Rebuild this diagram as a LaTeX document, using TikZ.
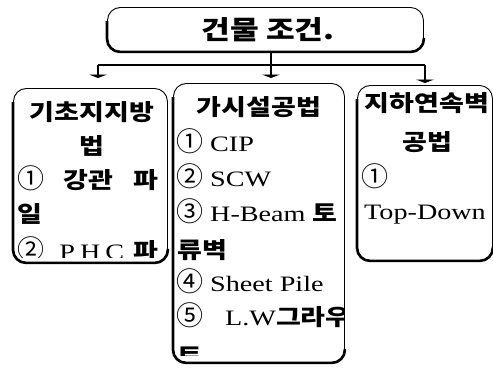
\documentclass[tikz,border=0pt]{standalone}
\usepackage{fontspec}
\setmainfont{Liberation Serif}[FakeStretch=1.28]
\newfontfamily\kr{Noto Sans CJK KR}[FakeStretch=1.2]
\newfontfamily\krc{Noto Sans CJK KR}
\usetikzlibrary{arrows.meta}
\newcommand{\K}[2][22.5]{{\kr\bfseries\fontsize{#1}{#1}\selectfont #2}}
\newcommand{\C}[1]{{\krc\fontsize{27}{27}\selectfont #1}}
\newcommand{\boxshadow}[1]{\draw[line width=2.6pt, rounded corners=13pt]
  ([yshift=-14pt]#1.north west) -- (#1.south west) -- (#1.south east) -- ([yshift=14pt]#1.south east);}
\tikzset{
  boxshape/.style={draw, line width=0.9pt, rounded corners=13pt, inner sep=0pt, anchor=north west},
  lbl/.style={inner sep=0pt, anchor=base},
  lblw/.style={inner sep=0pt, anchor=base west},
  conn/.style={line width=1.2pt},
  arr/.style={conn, -{Triangle[width=18pt,length=3.5pt]}},
}
\begin{document}
\begin{tikzpicture}[x=1pt,y=-1pt]
\useasboundingbox (0,0) rectangle (493,368);
\fontsize{22}{22}\selectfont
% boxes
\node[boxshape, minimum width=316pt, minimum height=44pt] (top) at (107,7) {};
\node[boxshape, minimum width=154pt, minimum height=174pt] (lb) at (13,88) {};
\node[boxshape, minimum width=171pt, minimum height=279pt] (mb) at (173,83) {};
\node[boxshape, minimum width=135pt, minimum height=175pt] (rb) at (357,85) {};
% title
\node[lbl] (title) at (268,39) {\K[26]{건물 조건.}};
% left box text
\begin{scope}
\clip (13,88) rectangle (167,257);
\node[lbl] (l1) at (92,120) {\K{기초지지방}};
\node[lbl] (l2) at (92,154) {\K{법}};
\node[lblw] (l3) at (17,188) {\makebox[141pt][s]{\C{①} \K{강관} \K{파}}};
\node[lblw] (l4) at (17,222) {\K{일}};
\node[lblw] (l5) at (17,259) {\makebox[141pt][s]{\C{②} \hspace{6pt}P\hspace{5pt}H\hspace{5pt}C \K{파}}};
\end{scope}
% middle box text
\begin{scope}
\clip (173,83) rectangle (344,355);
\node[lbl] (m1) at (259,115) {\K{가시설공법}};
\node[lblw] (m2) at (176,151) {\C{①}\hspace{7pt}CIP};
\node[lblw] (m3) at (176,186) {\C{②}\hspace{7pt}SCW};
\node[lblw] (m4) at (176,221) {\C{③}\hspace{7pt}H-Beam \K{토}};
\node[lblw] (m5) at (177,258) {\K{류벽}};
\node[lblw] (m6) at (176,291) {\C{④}\hspace{7pt}Sheet Pile};
\node[lblw] (m7) at (176,325) {\C{⑤}\hspace{22pt}L.W\K{그라우}};
\node[lblw] (m8) at (177,364) {\K{트}};
\end{scope}
% right box text
\node[lbl] (r1) at (427,111) {\K{지하연속벽}};
\node[lbl] (r2) at (427,150) {\K{공법}};
\node[lblw] (r3) at (361,186) {\C{①}};
\node[lblw] (r4) at (364,219) {Top-Down};
% shadows
\boxshadow{top}
\boxshadow{lb}
\boxshadow{mb}
\boxshadow{rb}
% connectors
\coordinate (j) at (271,65);
\coordinate (hl) at (98,65);
\coordinate (hr) at (425,65);
\draw[conn] (top.south -| j) -- (j);
\draw[conn] (hl) -- (hr);
\draw[arr] (hl) -- ([yshift=10pt]lb.north -| hl);
\draw[arr] (j) -- ([yshift=5pt]mb.north -| j);
\draw[arr] (hr) -- ([yshift=2pt]rb.north -| hr);
\end{tikzpicture}
\end{document}
